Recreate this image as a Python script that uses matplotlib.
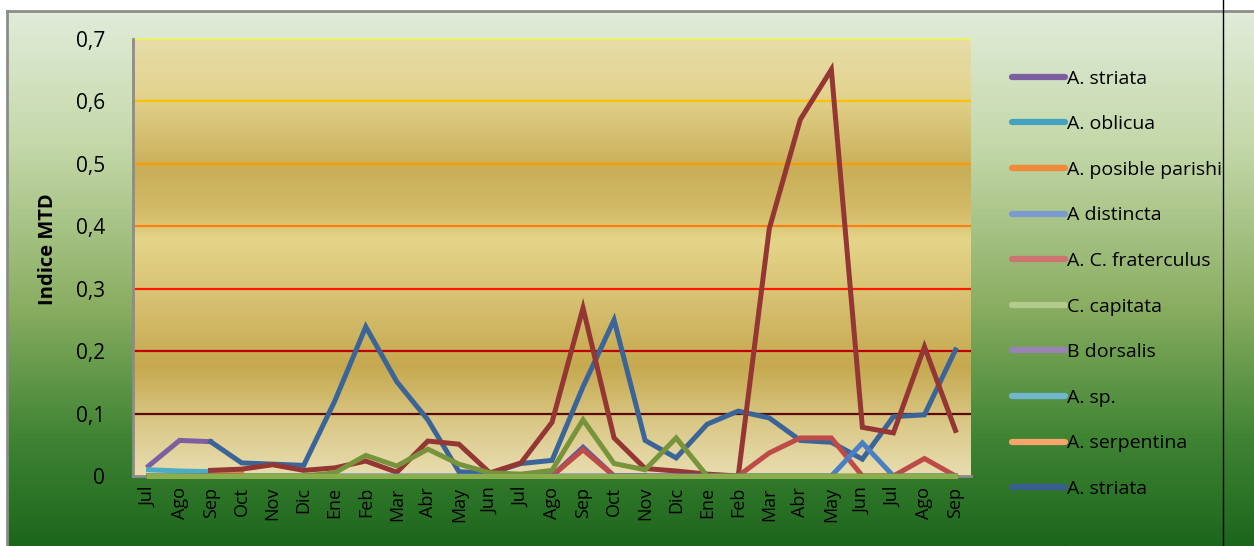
import numpy as np
import matplotlib
matplotlib.use("Agg")
import matplotlib.pyplot as plt
from matplotlib.colors import LinearSegmentedColormap
from matplotlib.lines import Line2D

plt.rcParams['font.family'] = ['Open Sans', 'DejaVu Sans']

n = np.nan
months = ['Jul', 'Ago', 'Sep', 'Oct', 'Nov', 'Dic', 'Ene', 'Feb', 'Mar', 'Abr', 'May', 'Jun',
          'Jul', 'Ago', 'Sep', 'Oct', 'Nov', 'Dic', 'Ene', 'Feb', 'Mar', 'Abr', 'May', 'Jun',
          'Jul', 'Ago', 'Sep']

striata_a = [0.016, 0.057, 0.055] + [n] * 24
oblicua = [0.010, 0.008, 0.007] + [n] * 24
parishi = [n, n, 0.004, 0.005] + [n] * 23
distincta = [0] * 22 + [0.0, 0.053, 0.0, 0.0, 0.0]
dorsalis = [n] * 12 + [0.0, 0.0, 0.046, 0.0, 0.0] + [n] * 10
fraterculus = [n] * 12 + [0.0, 0.0, 0.042, 0.0, 0.0, 0.0, 0.0, 0.0,
                          0.037, 0.061, 0.061, 0.0, 0.0, 0.028, 0.0]
maroon = [n, n, 0.009, 0.011, 0.018, 0.009, 0.013, 0.024, 0.006, 0.056, 0.051, 0.005,
          0.021, 0.086, 0.269, 0.061, 0.012, 0.008, 0.003, 0.0, 0.396, 0.571, 0.651,
          0.078, 0.069, 0.207, 0.073]
olive = [0.0, 0.0, 0.0, 0.0, 0.0, 0.0, 0.005, 0.033, 0.016, 0.043, 0.019, 0.005,
         0.003, 0.009, 0.090, 0.020, 0.010, 0.061, 0.0, 0.0, 0.0, 0.0, 0.0, 0.0,
         0.0, 0.0, 0.0]
capitata = [0.0] * 27
striata_b = [n, n, 0.055, 0.021, 0.019, 0.017, 0.120, 0.239, 0.151, 0.090, 0.007, 0.004,
             0.020, 0.025, 0.143, 0.250, 0.057, 0.029, 0.083, 0.104, 0.093, 0.057, 0.054,
             0.027, 0.095, 0.098, 0.202]

legend_labels = ['A. striata', 'A. oblicua', 'A. posible parishi', 'A distincta',
                 'A. C. fraterculus', 'C. capitata', 'B dorsalis', 'A. sp.',
                 'A. serpentina', 'A. striata']
legend_colors = ['#7c5fa0', '#43a3bf', '#ef8a3a', '#7b9bcf', '#cd7371', '#b3cc8c',
                 '#9983b5', '#6fb7d1', '#f7a46b', '#3b5e91']

yticks = [0, 0.1, 0.2, 0.3, 0.4, 0.5, 0.6, 0.7]
ytick_labels = ['0', '0,1', '0,2', '0,3', '0,4', '0,5', '0,6', '0,7']
grid_colors = ['#5c0a00', '#c00000', '#ff1a00', '#ff7f10', '#ff9900', '#ffc000', '#ffff00']

W, H = 1254, 546
fig = plt.figure(figsize=(W / 100, H / 100), dpi=100)

# chart area background
bg = fig.add_axes([0, 0, 1, 1])
bg.set_xlim(0, W)
bg.set_ylim(H, 0)
bg.axis('off')
green = LinearSegmentedColormap.from_list('g', [(0, '#e1ecd9'), (0.25, '#c4d8a9'),
                                                (0.55, '#8aae62'), (0.8, '#3f8433'),
                                                (1, '#1c661c')])
bg.imshow(np.linspace(0, 1, 256).reshape(-1, 1), cmap=green, aspect='auto',
          extent=[7, W, H, 11], zorder=0)
bg.plot([7, W], [11, 11], color='#8c8c8c', lw=2, zorder=1)
bg.plot([7, 7], [11, H], color='#8c8c8c', lw=2, zorder=1)
bg.plot([1223, 1223], [0, H], color='black', lw=1, zorder=2)

ax = fig.add_axes([133 / W, (H - 476) / H, (971 - 133) / W, (476 - 39) / H])
x = np.arange(len(months))
ax.set_xlim(-0.5, len(months) - 0.5)
ax.set_ylim(0, 0.7)

gold = LinearSegmentedColormap.from_list('o', [(0, '#e7dcaa'), (0.12, '#e3d48f'),
                                               (0.3, '#c9ae57'), (0.4, '#d3bd6a'),
                                               (0.46, '#e5d589'), (0.6, '#d6c070'),
                                               (0.75, '#c6a94f'), (0.88, '#dac887'),
                                               (1, '#e8ddb0')])
ax.imshow(np.linspace(0, 1, 256).reshape(-1, 1), cmap=gold, aspect='auto',
          extent=[-0.5, len(months) - 0.5, 0, 0.7], zorder=0)

for yv, c in zip(yticks[1:], grid_colors):
    ax.axhline(yv, color=c, lw=1.6, zorder=1)

lw = 3.6
series = [(striata_a, '#7d5fa0'), (oblicua, '#4bacc6'), (parishi, '#e9853a'),
          (dorsalis, '#5a5aa6'), (striata_b, '#3b6598'), (maroon, '#943634'),
          (fraterculus, '#bd4b48'), (distincta, '#4a7fc3'), (olive, '#77933c'),
          (capitata, '#8aad4e')]
for vals, c in series:
    ax.plot(x, vals, color=c, lw=lw, solid_joinstyle='miter', clip_on=False, zorder=3)

for s in ['top', 'right']:
    ax.spines[s].set_visible(False)
for s in ['left', 'bottom']:
    ax.spines[s].set_color('#8c8c8c')
    ax.spines[s].set_linewidth(2)
    ax.spines[s].set_zorder(2)

ax.set_yticks(yticks)
ax.set_yticklabels(ytick_labels, fontsize=15)
ax.set_xticks(x)
ax.set_xticklabels(months, rotation=90, fontsize=13, va='top')
ax.tick_params(axis='y', length=0, pad=20)
ax.tick_params(axis='x', length=0, pad=8)
ax.set_ylabel('Indice MTD', fontsize=14.5, fontweight='bold')
ax.yaxis.set_label_coords(-0.09, 0.52)

handles = [Line2D([0], [0], color=c, lw=4.5, solid_capstyle='round') for c in legend_colors]
fig.legend(handles, legend_labels, loc='upper left', bbox_to_anchor=(994 / W, 1 - 52 / H),
           frameon=False, fontsize=14, handlelength=2.75, handletextpad=0.12,
           labelspacing=1.42)

fig.savefig('out.png', dpi=100)
